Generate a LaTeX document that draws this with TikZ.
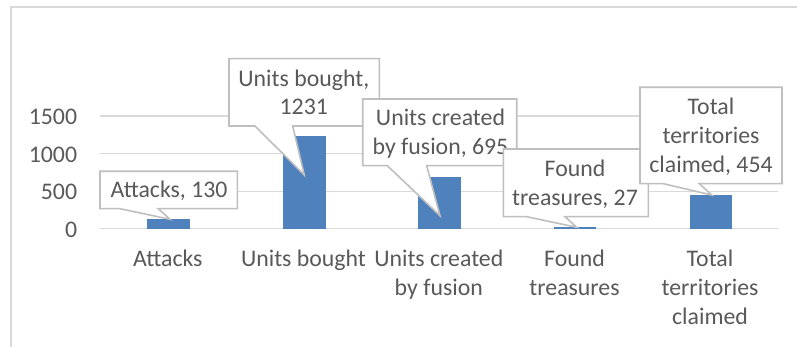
\documentclass[tikz,border=0pt]{standalone}
\usepackage{fontspec}
\setmainfont{Carlito}
\definecolor{txt}{HTML}{595959}
\definecolor{grid}{HTML}{D9D9D9}
\definecolor{boxline}{HTML}{BFBFBF}
\definecolor{bar}{HTML}{4F81BD}
\begin{document}
\begin{tikzpicture}[x=1pt,y=-1pt,
  lbl/.style={text=txt,font=\fontsize{23.8}{29}\selectfont,inner sep=0pt,anchor=base},
  ylbl/.style={lbl,anchor=base east},
  gridline/.style={draw=grid,line width=1.5pt},
  barfill/.style={fill=bar,draw=none},
  callout/.style={fill=white,draw=boxline,line width=1.6pt,line join=miter}]
\useasboundingbox (0,0) rectangle (797,347);
\fill[white] (0,0) rectangle (797,347);
% chart area border
\draw[draw=grid,line width=1.2pt] (11,347) -- (11,7) -- (797,7);
% gridlines
\foreach \yy in {116,153.7,191.7} \draw[gridline] (100,\yy) -- (777.7,\yy);
\draw[gridline] (100,228.7) -- (777.7,228.7);
% axis labels
\node[ylbl] (y1500) at (77.3,125) {1500};
\node[ylbl] (y1000) at (77.3,162.7) {1000};
\node[ylbl] (y500) at (77.3,200) {500};
\node[ylbl] (y0) at (77.3,237.7) {0};
% bars
\fill[barfill] (147,228.7) rectangle (190,219);
\fill[barfill] (282.7,228.7) rectangle (325.7,136.4);
\fill[barfill] (418.3,228.7) rectangle (460.7,176.6);
\fill[barfill] (554,228.7) rectangle (596,226.7);
\fill[barfill] (690,228.7) rectangle (732,194.7);
% category labels
\node[lbl] (c1) at (167.8,266.7) {Attacks};
\node[lbl] (c2) at (303.5,266.7) {Units bought};
\node[lbl] (c3a) at (438.8,266.7) {Units created};
\node[lbl] (c3b) at (438.8,295.7) {by fusion};
\node[lbl] (c4a) at (574.5,266.7) {Found};
\node[lbl] (c4b) at (574.5,295.7) {treasures};
\node[lbl] (c5a) at (710,266.7) {Total};
\node[lbl] (c5b) at (710,295.7) {territories};
\node[lbl] (c5c) at (710,324.7) {claimed};
% callout 1
\draw[callout] (100,171.3) -- (237.3,171.3) -- (237.3,208.7) -- (158.3,208.7) -- (170,219.3) -- (120,208.7) -- (100,208.7) -- cycle;
\node[lbl] (d1) at (169,197.5) {Attacks, 130};
% callout 2
\draw[callout] (229,58.7) -- (379.3,58.7) -- (379.3,126) -- (292.7,126) -- (304.3,175) -- (255,126) -- (229,126) -- cycle;
\node[lbl] (d2a) at (303.8,86.3) {Units bought,};
\node[lbl] (d2b) at (303.8,115) {1231};
% callout 3
\draw[callout] (362.7,99) -- (516.7,99) -- (516.7,165.7) -- (426.7,165.7) -- (440,215.7) -- (387.3,165.7) -- (362.7,165.7) -- cycle;
\node[lbl] (d3a) at (440.5,126) {Units created};
\node[lbl] (d3b) at (440.5,154.8) {by fusion, 695};
% callout 4
\draw[callout] (503.3,149) -- (648.3,149) -- (648.3,216.7) -- (565,216.7) -- (576.7,227.3) -- (526.7,216.7) -- (503.3,216.7) -- cycle;
\node[lbl] (d4a) at (575,176.7) {Found};
\node[lbl] (d4b) at (575,205.5) {treasures, 27};
% callout 5
\draw[callout] (640,87.3) -- (782,87.3) -- (782,183.7) -- (699.3,183.7) -- (711.7,195) -- (663.3,183.7) -- (640,183.7) -- cycle;
\node[lbl] (d5a) at (711,115) {Total};
\node[lbl] (d5b) at (711,144) {territories};
\node[lbl] (d5c) at (711,173) {claimed, 454};
\end{tikzpicture}
\end{document}
